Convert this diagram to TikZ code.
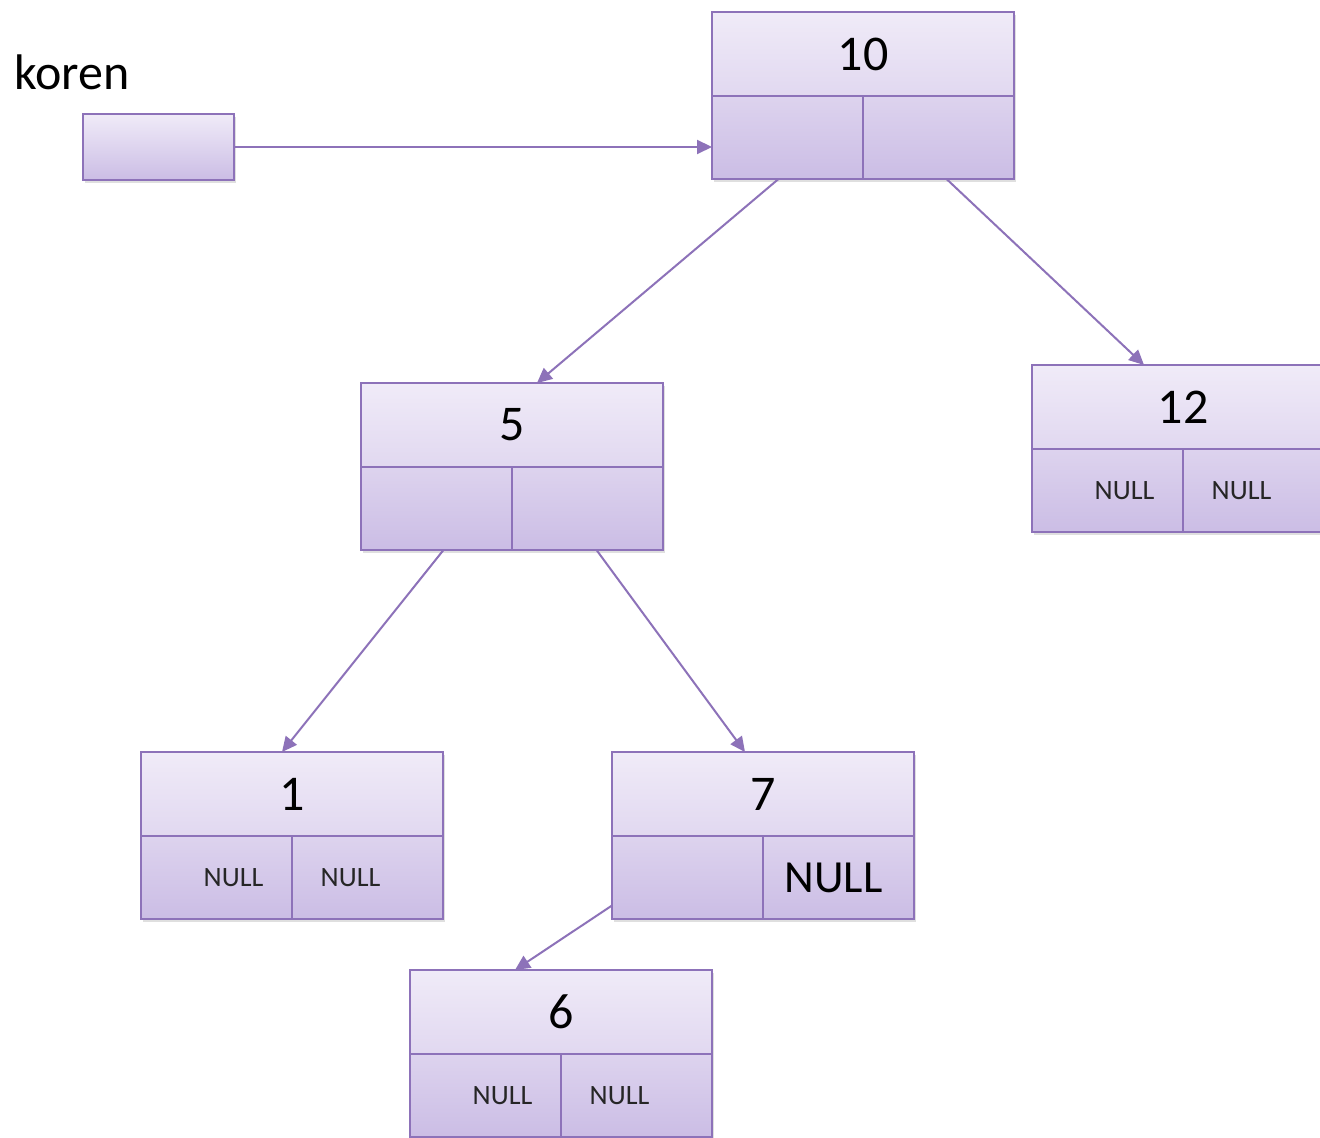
\documentclass[tikz,border=0pt]{standalone}
\usepackage{fontspec}
\setmainfont{Carlito}
\usetikzlibrary{shadows,arrows.meta,calc}
\definecolor{edgeC}{HTML}{8D72B9}
\definecolor{tTop}{HTML}{F0EBF8}
\definecolor{tBot}{HTML}{E1D8F0}
\definecolor{cTop}{HTML}{DDD3EE}
\definecolor{cBot}{HTML}{CBBDE5}
\tikzset{
  boxbase/.style={draw=edgeC, line width=1pt, inner sep=0pt, outer sep=0pt,
    drop shadow={opacity=0.25, shadow xshift=1.2pt, shadow yshift=-1.5pt}},
  titlebox/.style={boxbase, top color=tTop, bottom color=tBot,
    minimum width=151pt, minimum height=42pt, font=\fontsize{25}{30}\selectfont},
  cellbox/.style={boxbase, top color=cTop, bottom color=cBot,
    minimum width=75.5pt, minimum height=41.5pt, font=\fontsize{14}{17}\selectfont, text=black!85},
  korenbox/.style={boxbase, top color=tTop, bottom color=cBot,
    minimum width=75.5pt, minimum height=33pt},
  link/.style={draw=edgeC, line width=1pt, -{Triangle[length=7.5pt,width=7pt]}},
}
\newcommand\treenode[6]{%
  \node[titlebox, anchor=north west] (#1) at (#2,#3) {\raisebox{-1pt}{#4}};
  \node[cellbox, anchor=north west] (#1l) at (#1.south west) {\raisebox{-1.5pt}{#5}};
  \node[cellbox, anchor=north east] (#1r) at (#1.south east) {\raisebox{-1.5pt}{#6}};
}
\newcommand\nullL{\hspace*{17pt}NULL}
\newcommand\nullR{NULL\hspace*{17pt}}
\begin{document}
\begin{tikzpicture}[x=0.5pt, y=-0.5pt]
\clip (0,0) rectangle (1320,1138);
\fill[white] (0,0) rectangle (1320,1138);
\node[anchor=base west, inner sep=0pt, font=\fontsize{25}{30}\selectfont] (korenlabel) at (14,90) {koren};
\node[korenbox, anchor=north west] (koren) at (83,114) {};
\treenode{n10}{712}{12}{10}{}{}
\treenode{n5}{361}{383}{5}{}{}
\treenode{n12}{1032}{365}{12}{\nullL}{\nullR}
\treenode{n1}{141}{752}{1}{\nullL}{\nullR}
\treenode{n7}{612}{752}{7}{}{\fontsize{23}{28}\selectfont\color{black}NULL\hspace*{5pt}}
\treenode{n6}{410}{970}{6}{\nullL}{\nullR}
\draw[link] (koren.east) -- (koren.east -| n10.west);
\draw[link] ($(n10l.south)+(-9,0)$) -- ($(n5.north)+(25,0)$);
\draw[link] ($(n10r.south)+(8,0)$) -- ($(n12.north)+(-39,0)$);
\draw[link] ($(n5l.south)+(7,0)$) -- ($(n1.north)+(-10,0)$);
\draw[link] ($(n5r.south)+(9,0)$) -- ($(n7.north)+(-18,0)$);
\draw[link] ($(n7l.west)+(0,28)$) -- ($(n6.north)+(-46,0)$);
\end{tikzpicture}
\end{document}
